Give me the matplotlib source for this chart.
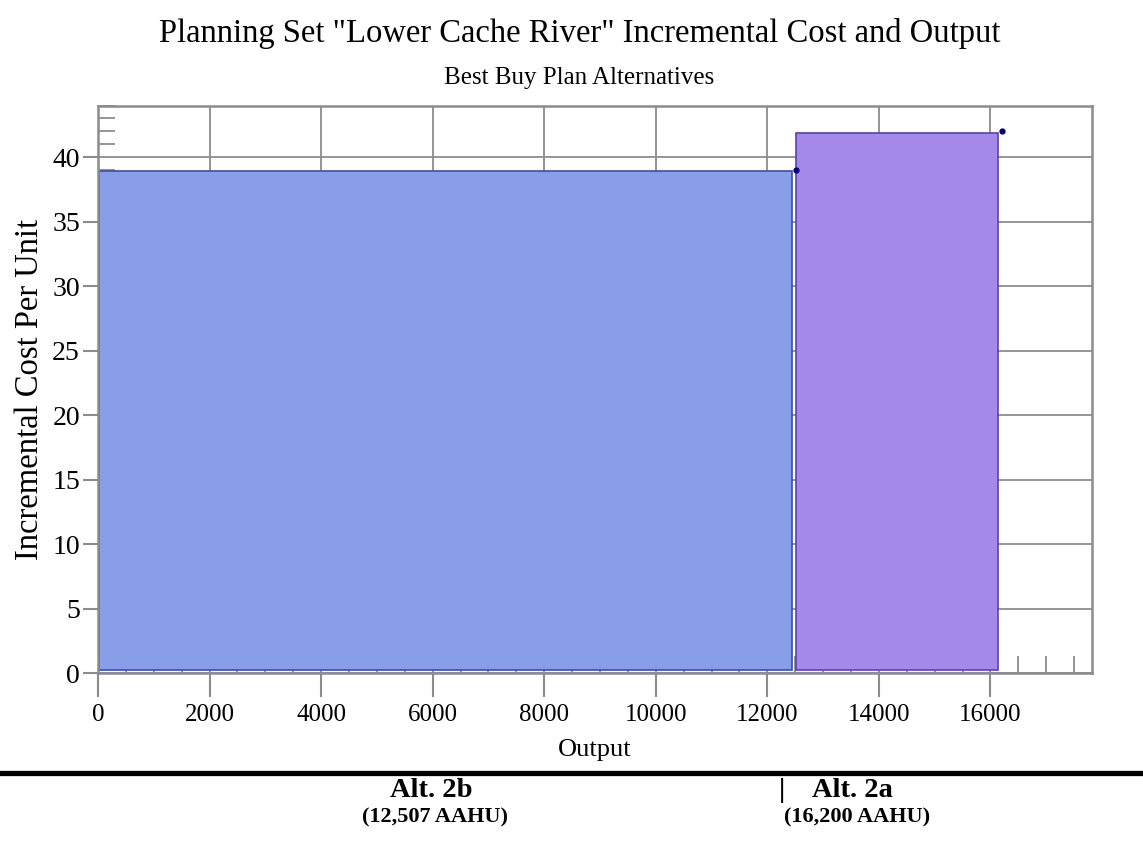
import numpy as np
import matplotlib
matplotlib.use("Agg")
import matplotlib.pyplot as plt
from matplotlib.lines import Line2D
from matplotlib.ticker import MultipleLocator

# plan alternatives (best buy)
alt_names = ["Alt. 2b", "Alt. 2a"]
alt_output = [12507, 16200]
alt_cost = [39.0, 42.0]
alt_labels = ["(12,507 AAHU)", "(16,200 AAHU)"]
fill_colors = ["#889ee8", "#a589ea"]
edge_colors = ["#3b4db0", "#5b3fb0"]

plt.rcParams['font.family'] = ['Liberation Serif', 'DejaVu Serif']

fig = plt.figure(figsize=(11.43, 8.44), dpi=100)
ax = fig.add_axes([0.0857, 0.2026, 0.8697, 0.6724])

prev = 0
for i in range(len(alt_output)):
    w = alt_output[i] - prev
    ax.bar(prev + 15, alt_cost[i] - 0.1 - 0.2, width=w - 75, bottom=0.2, align='edge',
           color=fill_colors[i], edgecolor=edge_colors[i], linewidth=1.2, zorder=2)
    prev = alt_output[i]

ax.plot(alt_output, alt_cost, linestyle='none', marker='o', markersize=3.5,
        color='#000080', zorder=3, clip_on=False)

ax.set_xlim(0, max(alt_output) * 1.1)
ax.set_ylim(0, 44)
ax.xaxis.set_major_locator(MultipleLocator(2000))
ax.xaxis.set_minor_locator(MultipleLocator(500))
ax.yaxis.set_major_locator(MultipleLocator(5))
ax.yaxis.set_minor_locator(MultipleLocator(1))

ax.set_axisbelow(True)
ax.grid(True, which='major', color='#8c8c8c', linewidth=1.3)
ax.tick_params(axis='both', which='major', direction='out', color='#8c8c8c', width=1.5)
ax.tick_params(axis='x', which='major', length=17, pad=5, labelsize=18)
ax.tick_params(axis='y', which='major', length=11, pad=2, labelsize=20)
ax.tick_params(axis='both', which='minor', direction='in', color='#8c8c8c',
               width=1.3, length=12)
for s in ax.spines.values():
    s.set_color('#8c8c8c')
    s.set_linewidth(1.8)

ax.set_xlabel("Output", fontsize=19, labelpad=10)
ax.set_ylabel("Incremental Cost Per Unit", fontsize=23.5, labelpad=5)

fig.text(0.507, 0.960, 'Planning Set "Lower Cache River" Incremental Cost and Output',
         ha='center', va='center', fontsize=23.5)
fig.text(0.507, 0.907, 'Best Buy Plan Alternatives', ha='center', va='center', fontsize=18)

fig.add_artist(Line2D([0, 1], [0.0841, 0.0841], color='black', linewidth=3.8,
                      transform=fig.transFigure))

fig.text(0.377, 0.063, alt_names[0], ha='center', va='center', fontsize=20.5, fontweight='bold')
fig.text(0.381, 0.032, alt_labels[0], ha='center', va='center', fontsize=16, fontweight='bold')
fig.text(0.684, 0.063, "|", ha='center', va='center', fontsize=20, fontweight='bold')
fig.text(0.746, 0.063, alt_names[1], ha='center', va='center', fontsize=20.5, fontweight='bold')
fig.text(0.750, 0.032, alt_labels[1], ha='center', va='center', fontsize=16, fontweight='bold')

fig.savefig("out.png", dpi=100)
